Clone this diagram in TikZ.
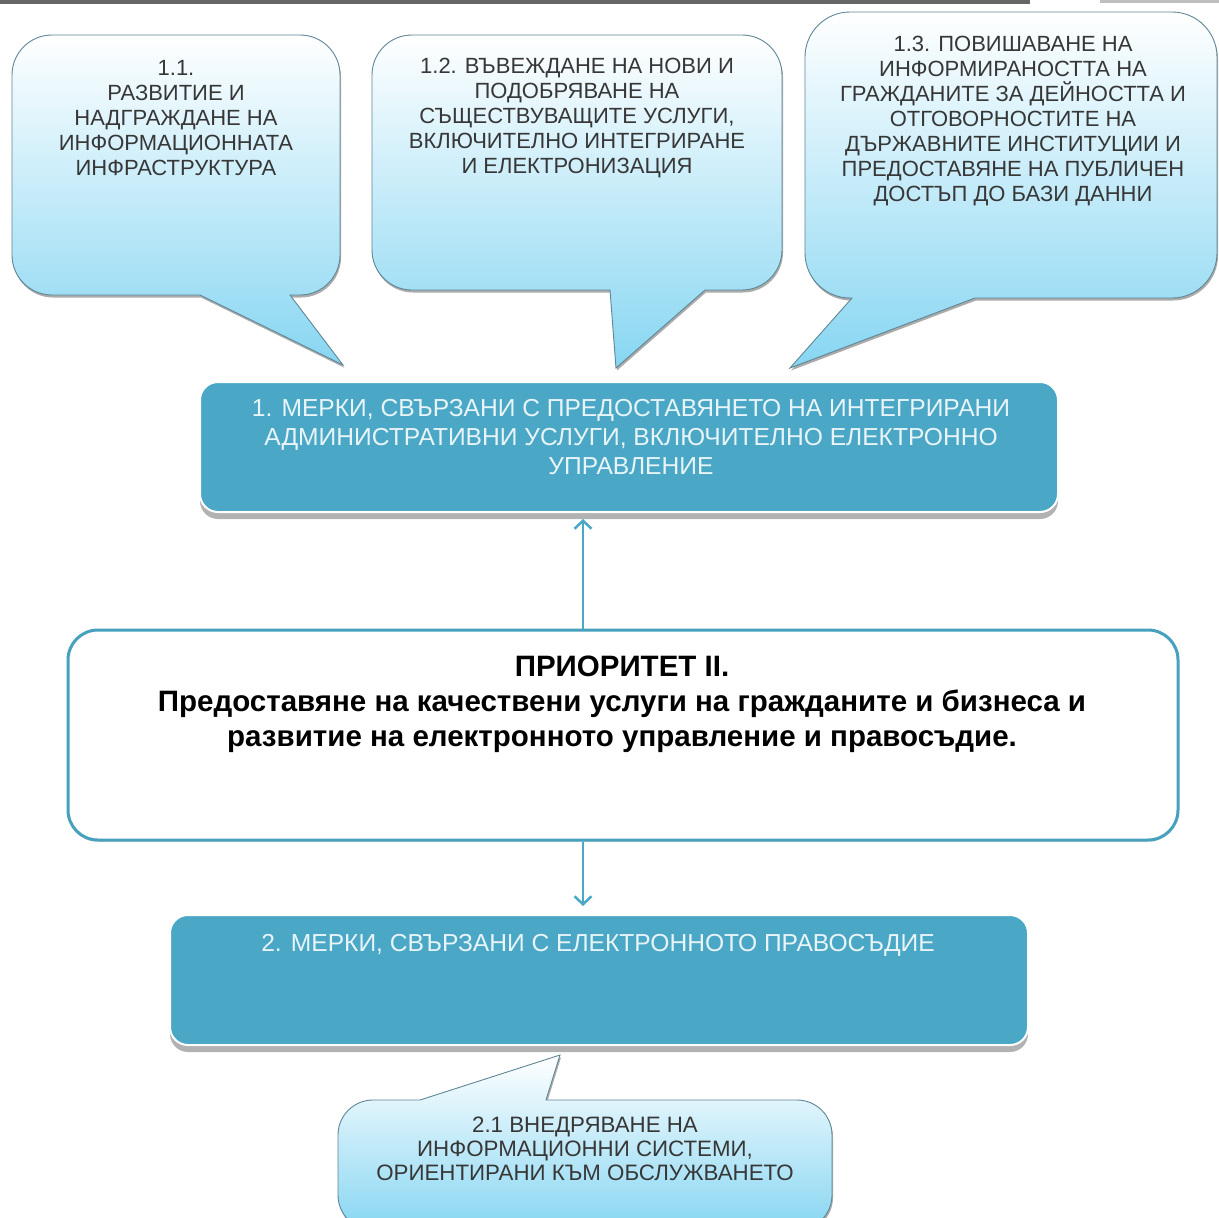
\documentclass[tikz,border=0pt]{standalone}
\usepackage{fontspec}
\setmainfont{Liberation Sans}
\usetikzlibrary{arrows.meta,calc,shadows}
\definecolor{boxblue}{RGB}{74,168,198}
\definecolor{prioline}{RGB}{70,160,190}
\definecolor{callcyan}{RGB}{135,214,242}
\definecolor{callline}{RGB}{95,135,150}
\definecolor{calltext}{RGB}{55,55,55}
\definecolor{boxtext}{RGB}{232,244,248}
\begin{document}
\begin{tikzpicture}[x=1pt,y=-1pt,
  callout/.style={draw=callline, line width=0.9pt, top color=white, bottom color=callcyan,
    drop shadow={shadow xshift=1pt, shadow yshift=-2.5pt, fill=black!60, opacity=0.55}},
  ctext/.style={align=center, inner sep=0pt, anchor=north, text=calltext,
    font=\fontsize{22}{25}\selectfont},
  bluebox/.style={rectangle, rounded corners=18pt, fill=boxblue, draw=white, line width=2pt,
    drop shadow={shadow xshift=0pt, shadow yshift=-7pt, fill=black!50, opacity=0.6}},
  btext/.style={align=center, inner sep=0pt, anchor=north, text=boxtext,
    font=\fontsize{24.6}{29}\selectfont},
  priobox/.style={rectangle, rounded corners=30pt, fill=white, draw=prioline, line width=3pt,
    drop shadow={shadow xshift=0pt, shadow yshift=-2pt, fill=black!30, opacity=0.4}},
  ptext/.style={align=center, inner sep=0pt, anchor=north, text=black,
    font=\bfseries\fontsize{29.5}{35}\selectfont},
  arr/.style={draw=boxblue, line width=2.5pt, -{Straight Barb[length=8pt,width=17pt,line width=2.5pt]}}
]
\useasboundingbox (0,0) rectangle (1219,1218);
\fill[white] (0,0) rectangle (1219,1218);
% top screen bar
\fill[black!60] (0,0) rectangle (1030,4);
\fill[black!25] (1100,0) rectangle (1219,3);

% callout 1.1
\path[callout] (290,295) -- (300,295) arc[start angle=90,end angle=0,radius=40]
  -- (340,75) arc[start angle=0,end angle=-90,radius=40]
  -- (52,35) arc[start angle=-90,end angle=-180,radius=40]
  -- (12,255) arc[start angle=180,end angle=90,radius=40]
  -- (200,295) -- (343,365) -- cycle;
\node[ctext] (c11) at (176,60) {1.1.\\РАЗВИТИЕ И\\НАДГРАЖДАНЕ НА\\ИНФОРМАЦИОННАТА\\ИНФРАСТРУКТУРА};

% callout 1.2
\path[callout] (705,290) -- (742,290) arc[start angle=90,end angle=0,radius=40]
  -- (782,75) arc[start angle=0,end angle=-90,radius=40]
  -- (412,35) arc[start angle=-90,end angle=-180,radius=40]
  -- (372,250) arc[start angle=180,end angle=90,radius=40]
  -- (610,290) -- (616,368) -- cycle;
\node[ctext] (c12) at (577,58) {1.2. ВЪВЕЖДАНЕ НА НОВИ И\\ПОДОБРЯВАНЕ НА\\СЪЩЕСТВУВАЩИТЕ УСЛУГИ,\\ВКЛЮЧИТЕЛНО ИНТЕГРИРАНЕ\\И ЕЛЕКТРОНИЗАЦИЯ};

% callout 1.3
\path[callout] (975,298) -- (1172,298) arc[start angle=90,end angle=0,radius=45]
  -- (1217,57) arc[start angle=0,end angle=-90,radius=45]
  -- (850,12) arc[start angle=-90,end angle=-180,radius=45]
  -- (805,253) arc[start angle=180,end angle=90,radius=45]
  -- (852,298) -- (790,368) -- cycle;
\node[ctext] (c13) at (1013,36) {1.3. ПОВИШАВАНЕ НА\\ИНФОРМИРАНОСТТА НА\\ГРАЖДАНИТЕ ЗА ДЕЙНОСТТА И\\ОТГОВОРНОСТИТЕ НА\\ДЪРЖАВНИТЕ ИНСТИТУЦИИ И\\ПРЕДОСТАВЯНЕ НА ПУБЛИЧЕН\\ДОСТЪП ДО БАЗИ ДАННИ};

% callout 2.1
\path[callout] (420,1100) -- (560,1055) -- (546,1100)
  -- (797,1100) arc[start angle=-90,end angle=0,radius=35]
  -- (832,1195) arc[start angle=0,end angle=90,radius=35]
  -- (373,1230) arc[start angle=90,end angle=180,radius=35]
  -- (338,1135) arc[start angle=180,end angle=270,radius=35] -- cycle;
\node[ctext, font=\fontsize{22.3}{24}\selectfont] (c21) at (585,1117) {2.1 ВНЕДРЯВАНЕ НА\\ИНФОРМАЦИОННИ СИСТЕМИ,\\ОРИЕНТИРАНИ КЪМ ОБСЛУЖВАНЕТО};

% blue box 1
\node[bluebox, minimum width=858pt, minimum height=130pt] (box1) at (629,447) {};
\node[btext] (t1) at (631,399) {1. МЕРКИ, СВЪРЗАНИ С ПРЕДОСТАВЯНЕТО НА ИНТЕГРИРАНИ\\АДМИНИСТРАТИВНИ УСЛУГИ, ВКЛЮЧИТЕЛНО ЕЛЕКТРОННО\\УПРАВЛЕНИЕ};

% priority box
\node[priobox, minimum width=1110pt, minimum height=210pt] (prio) at (623,735) {};
\node[ptext] (tp) at (622,656) {ПРИОРИТЕТ II.\\Предоставяне на качествени услуги на гражданите и бизнеса и\\развитие на електронното управление и правосъдие.};

% blue box 2
\node[bluebox, minimum width=858pt, minimum height=130pt] (box2) at (599,980) {};
\node[btext] (t2) at (598,934) {2. МЕРКИ, СВЪРЗАНИ С ЕЛЕКТРОННОТО ПРАВОСЪДИЕ};

% connectors
\coordinate (ax) at (583,0);
\draw[arr] (prio.north -| ax) -- ([yshift=-6pt]box1.south -| ax);
\draw[arr] (prio.south -| ax) -- ([yshift=8pt]box2.north -| ax);
\end{tikzpicture}
\end{document}
